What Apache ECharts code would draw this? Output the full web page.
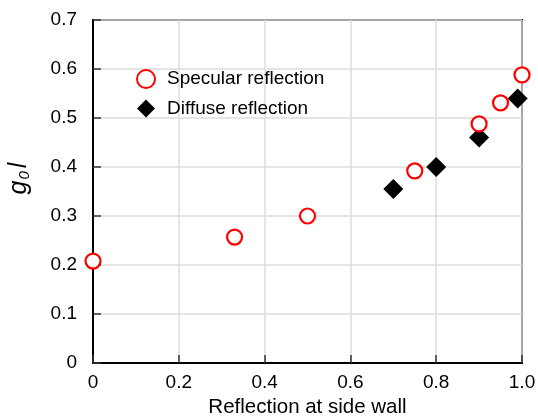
<!DOCTYPE html>
<html>
<head>
<meta charset="utf-8">
<script src="https://cdn.jsdelivr.net/npm/echarts@6/dist/echarts.min.js"></script>
<style>
  html, body { margin: 0; padding: 0; background: #fff; }
  #chart { width: 538px; height: 417px; }
</style>
</head>
<body>
<div id="chart"></div>
<script>
// Specular reflection measurements: [reflection at side wall, g0 l]
const specularX = [0, 0.33, 0.5, 0.75, 0.9, 0.95, 1.0];
const specularY = [0.208, 0.257, 0.300, 0.392, 0.488, 0.531, 0.588];

// Diffuse reflection measurements
const diffuseX = [0.7, 0.8, 0.9, 0.99];
const diffuseY = [0.355, 0.400, 0.460, 0.540];

const xTicks = [0, 0.2, 0.4, 0.6, 0.8, 1.0];
const yTicks = [0, 0.1, 0.2, 0.3, 0.4, 0.5, 0.6, 0.7];

const pair = (xs, ys) => xs.map((x, i) => [x, ys[i]]);
const font = 'Liberation Sans, Arial, Helvetica, sans-serif';

const chart = echarts.init(document.getElementById('chart'), null, { renderer: 'canvas' });

const tickFmt = ticks => v => {
  const t = ticks.find(t => Math.abs(t - v) < 1e-9);
  if (t === undefined) return '';
  return t === 0 ? '0' : t.toFixed(1);
};

chart.setOption({
  animation: false,
  backgroundColor: '#fff',
  grid: {
    left: 93, top: 20, right: 16, bottom: 54,
    containLabel: false,
    outerBoundsMode: 'none',
    show: true, borderColor: '#000', borderWidth: 2, backgroundColor: 'transparent'
  },
  legend: {
    orient: 'vertical',
    left: 136, top: 69,
    padding: 0,
    itemWidth: 18, itemHeight: 18,
    itemGap: 10,
    formatter: name => '{pad| }' + name,
    textStyle: {
      fontFamily: font, fontSize: 19, color: '#000',
      rich: { pad: { width: 7, fontSize: 19 } }
    },
    data: ['Specular reflection', 'Diffuse reflection']
  },
  xAxis: {
    type: 'value', min: 0, max: 1, interval: 0.2,
    name: 'Reflection at side wall',
    nameLocation: 'middle', nameGap: 32,
    nameTextStyle: { fontFamily: font, fontSize: 20.5, color: '#000' },
    axisLine: { show: true, onZero: false, lineStyle: { color: '#000', width: 2 } },
    axisTick: { show: true, inside: true, length: 8, lineStyle: { color: '#333', width: 1.5 } },
    axisLabel: { fontFamily: font, fontSize: 19, color: '#000', margin: 10, formatter: tickFmt(xTicks) },
    splitLine: { show: true, lineStyle: { color: '#dcdcdc', width: 1.5 } }
  },
  yAxis: {
    type: 'value', min: 0, max: 0.7, interval: 0.1,
    name: '{g|g}{s|0}{l|l}',
    nameLocation: 'middle', nameGap: 61, nameRotate: 90,
    nameTextStyle: {
      fontFamily: font, color: '#000',
      padding: [0, 0, 0, 26],
      rich: {
        g: { fontFamily: font, fontSize: 25, fontStyle: 'italic', color: '#000' },
        s: { fontFamily: font, fontSize: 15, fontStyle: 'italic', color: '#000', verticalAlign: 'bottom', padding: [9, 0, 0, 1] },
        l: { fontFamily: font, fontSize: 25, fontStyle: 'italic', color: '#000', padding: [0, 0, 0, 3] }
      }
    },
    axisLine: { show: true, onZero: false, lineStyle: { color: '#000', width: 2 } },
    axisTick: { show: true, inside: true, length: 8, lineStyle: { color: '#333', width: 1.5 } },
    axisLabel: { fontFamily: font, fontSize: 19, color: '#000', margin: 16, formatter: tickFmt(yTicks) },
    splitLine: { show: true, lineStyle: { color: '#dcdcdc', width: 1.5 } }
  },
  series: [
    {
      name: 'Specular reflection',
      type: 'scatter',
      z: 3,
      symbol: 'circle',
      symbolSize: 15,
      clip: false,
      itemStyle: { color: '#fff', borderColor: '#ff0000', borderWidth: 2.2, opacity: 1 },
      data: pair(specularX, specularY)
    },
    {
      name: 'Diffuse reflection',
      type: 'scatter',
      z: 2,
      symbol: 'diamond',
      symbolSize: [20, 20],
      clip: false,
      itemStyle: { color: '#000', opacity: 1 },
      data: pair(diffuseX, diffuseY)
    }
  ]
});
</script>
</body>
</html>
